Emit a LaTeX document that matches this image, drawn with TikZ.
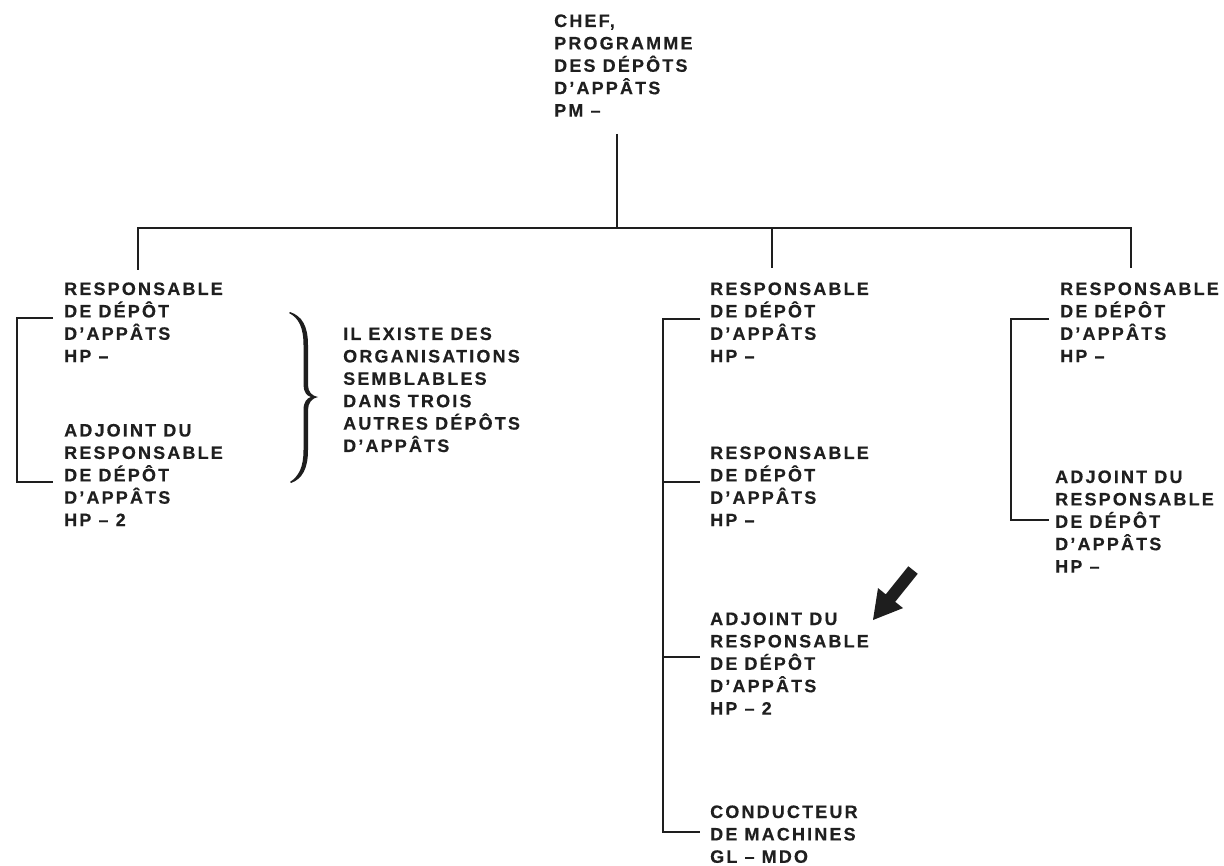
\documentclass[tikz,border=0pt]{standalone}
\usepackage{fontspec}
\newfontfamily\orgfont{Liberation Sans Bold}[LetterSpace=12, FakeBold=0.4]
\newcommand{\colstack}[1]{\vtop{\baselineskip=22.4pt\lineskiplimit=-100pt\lineskip=0pt\halign{##\hfil\cr#1\crcr}}}
\definecolor{inkcol}{HTML}{1F1F1F}
\definecolor{linecol}{HTML}{1E1E1E}
\tikzset{
  txt/.style={anchor=base west, inner sep=0pt, text=inkcol,
    font=\orgfont\fontsize{18}{22.4}\selectfont},
  conn/.style={draw=linecol, line width=2pt, line join=miter}
}
\begin{document}
\begin{tikzpicture}[x=1pt,y=-1pt]
\fill[white] (0,0) rectangle (1224,866);
\useasboundingbox (0,0) rectangle (1224,866);

% ---- text nodes
\node[txt] (chef) at (554,27) {\colstack{CHEF,\cr PROGRAMME\cr DES DÉPÔTS\cr D’APPÂTS\cr PM –}};

\node[txt] (l1) at (64,295) {\colstack{RESPONSABLE\cr DE DÉPÔT\cr D’APPÂTS\cr HP –}};
\node[txt] (l2) at (64,436.5) {\colstack{ADJOINT DU\cr RESPONSABLE\cr DE DÉPÔT\cr D’APPÂTS\cr HP – 2}};
\node[txt] (note) at (343,340) {\colstack{IL EXISTE DES\cr ORGANISATIONS\cr SEMBLABLES\cr DANS TROIS\cr AUTRES DÉPÔTS\cr D’APPÂTS}};

\node[txt] (m1) at (710,295) {\colstack{RESPONSABLE\cr DE DÉPÔT\cr D’APPÂTS\cr HP –}};
\node[txt] (m2) at (710,459) {\colstack{RESPONSABLE\cr DE DÉPÔT\cr D’APPÂTS\cr HP –}};
\node[txt] (m3) at (710,625) {\colstack{ADJOINT DU\cr RESPONSABLE\cr DE DÉPÔT\cr D’APPÂTS\cr HP – 2}};
\node[txt] (m4) at (710,818) {\colstack{CONDUCTEUR\cr DE MACHINES\cr GL – MDO}};

\node[txt] (r1) at (1060,295) {\colstack{RESPONSABLE\cr DE DÉPÔT\cr D’APPÂTS\cr HP –}};
\node[txt] (r2) at (1055,483) {\colstack{ADJOINT DU\cr RESPONSABLE\cr DE DÉPÔT\cr D’APPÂTS\cr HP –}};

% ---- coordinates
\coordinate (chefstem) at (617,134);
\coordinate (busC) at (617,228);
\coordinate (busL) at (138,228);
\coordinate (busM) at (772,228);
\coordinate (busR) at (1131,228);
\coordinate (dropL) at (138,270);
\coordinate (dropM) at (772,268);
\coordinate (dropR) at (1131,268);

\coordinate (ls1) at (17,318);   \coordinate (lt1) at (53,318);
\coordinate (ls2) at (17,482);   \coordinate (lt2) at (53,482);

\coordinate (ms1) at (663,319);  \coordinate (mt1) at (700,319);
\coordinate (ms2) at (663,482);  \coordinate (mt2) at (700,482);
\coordinate (ms3) at (663,657);  \coordinate (mt3) at (700,657);
\coordinate (ms4) at (663,832);  \coordinate (mt4) at (700,832);

\coordinate (rs1) at (1011,319); \coordinate (rt1) at (1049,319);
\coordinate (rs2) at (1011,520); \coordinate (rt2) at (1049,520);

% ---- connectors
\draw[conn] (chefstem) -- (busC);
\draw[conn] (dropL) -- (busL) -- (busR) -- (dropR);
\draw[conn] (busM) -- (dropM);

\draw[conn] (lt1) -- (ls1) -- (ls2) -- (lt2);
\draw[conn] (mt1) -- (ms1) -- (ms4) -- (mt4);
\draw[conn] (ms2) -- (mt2);
\draw[conn] (ms3) -- (mt3);
\draw[conn] (rt1) -- (rs1) -- (rs2) -- (rt2);

% ---- brace
\fill[linecol] (290,312) .. controls (302,316) and (308,326) .. (308,345)
  -- (308,385) .. controls (308,392) and (312,396) .. (318,397)
  .. controls (312,398) and (308,403) .. (308,410)
  -- (308,450) .. controls (308,469) and (302,479) .. (291,483)
  -- (290,482) .. controls (299,476) and (303.5,467) .. (303.5,450)
  -- (303.5,410) .. controls (303.5,402) and (307,398) .. (311,397)
  .. controls (307,396) and (303.5,392) .. (303.5,385)
  -- (303.5,345) .. controls (303.5,328) and (299,318) .. (289,313) -- cycle;

% ---- arrow
\fill[linecol] (917.7,573.75) -- (908.3,566.25) -- (885.8,594.35) -- (878,588.1)
  -- (873,620) -- (903,608.1) -- (895.2,601.85) -- cycle;
\end{tikzpicture}
\end{document}
